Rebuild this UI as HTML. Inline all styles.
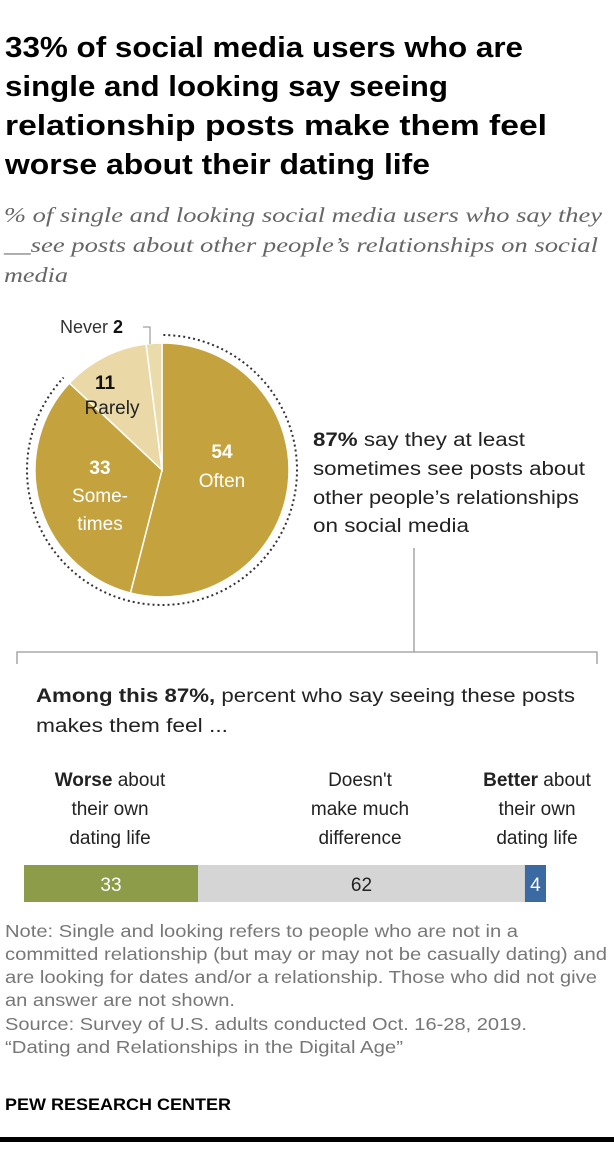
<!DOCTYPE html>
<html><head><meta charset="utf-8"><style>
html,body{margin:0;padding:0;background:#fff;}
svg{display:block;}
text{font-family:"Liberation Sans",sans-serif;}
.t{font-weight:bold;font-size:29px;fill:#000;}
.s{font-family:"Liberation Serif",serif;font-style:italic;font-size:21px;fill:#666;}
.b{font-size:19px;fill:#222;}
.n{font-size:17.5px;fill:#777;}
</style></head><body>
<svg id="chart" width="614" height="1150" viewBox="0 0 614 1150">
<g>
<text class="t" x="5" y="57" textLength="518" lengthAdjust="spacingAndGlyphs">33% of social media users who are</text>
<text class="t" x="5" y="96" textLength="443" lengthAdjust="spacingAndGlyphs">single and looking say seeing</text>
<text class="t" x="5" y="135" textLength="542" lengthAdjust="spacingAndGlyphs">relationship posts make them feel</text>
<text class="t" x="5" y="174" textLength="425" lengthAdjust="spacingAndGlyphs">worse about their dating life</text>
</g>
<g>
<text class="s" x="4" y="222" textLength="598" lengthAdjust="spacingAndGlyphs">% of single and looking social media users who say they</text>
<text class="s" x="4" y="252" textLength="594" lengthAdjust="spacingAndGlyphs">__see posts about other people’s relationships on social</text>
<text class="s" x="4" y="282" textLength="64" lengthAdjust="spacingAndGlyphs">media</text>
</g>
<g id="pie"></g>
<g>
<text class="b" x="313" y="446" textLength="212" lengthAdjust="spacingAndGlyphs"><tspan font-weight="bold">87%</tspan> say they at least</text>
<text class="b" x="313" y="475" textLength="272" lengthAdjust="spacingAndGlyphs">sometimes see posts about</text>
<text class="b" x="313" y="504" textLength="266" lengthAdjust="spacingAndGlyphs">other people’s relationships</text>
<text class="b" x="313" y="532" textLength="156" lengthAdjust="spacingAndGlyphs">on social media</text>
</g>
<g stroke="#999" stroke-width="1.3" fill="none">
<path d="M414 548 V652 M17 664 V652 H597 V664"/>
</g>
<g>
<text class="b" x="36" y="702" textLength="539" lengthAdjust="spacingAndGlyphs"><tspan font-weight="bold">Among this 87%,</tspan> percent who say seeing these posts</text>
<text class="b" x="36" y="732" textLength="192" lengthAdjust="spacingAndGlyphs">makes them feel ...</text>
</g>
<g id="collabels"></g>
<g id="bar"></g>
<g>
<text class="n" x="5" y="937" textLength="513" lengthAdjust="spacingAndGlyphs">Note: Single and looking refers to people who are not in a</text>
<text class="n" x="5" y="960" textLength="602" lengthAdjust="spacingAndGlyphs">committed relationship (but may or may not be casually dating) and</text>
<text class="n" x="5" y="983" textLength="592" lengthAdjust="spacingAndGlyphs">are looking for dates and/or a relationship. Those who did not give</text>
<text class="n" x="5" y="1006" textLength="230" lengthAdjust="spacingAndGlyphs">an answer are not shown.</text>
<text class="n" x="5" y="1030" textLength="522" lengthAdjust="spacingAndGlyphs">Source: Survey of U.S. adults conducted Oct. 16-28, 2019.</text>
<text class="n" x="5" y="1053" textLength="398" lengthAdjust="spacingAndGlyphs">“Dating and Relationships in the Digital Age”</text>
</g>
<text x="5" y="1110" font-weight="bold" font-size="17" fill="#000" textLength="226" lengthAdjust="spacingAndGlyphs">PEW RESEARCH CENTER</text>
<rect x="0" y="1137" width="614" height="5" fill="#000"/>
</svg>
<script>
const pieCats = ["Often","Sometimes","Rarely","Never"];
const pieValues = [54,33,11,2];
const barCats = ["Worse","No difference","Better"];
const barValues = [33,62,4];

const NS="http://www.w3.org/2000/svg";
function mk(tag,attrs,parent){const e=document.createElementNS(NS,tag);for(const k in attrs)e.setAttribute(k,attrs[k]);parent.appendChild(e);return e;}

const pie=document.getElementById('pie');
const cx=162,cy=470,r=127;
const total=pieValues.reduce((a,b)=>a+b,0);
const ang=v=>v/total*2*Math.PI;
const pt=(a,rr)=>[cx+rr*Math.sin(a),cy-rr*Math.cos(a)];
const pieColors=["#c4a33f","#c4a33f","#ead9a6","#eadcaa"];
let acc=0;
pieValues.forEach((v,i)=>{
  const a0=ang(acc),a1=ang(acc+v);acc+=v;
  const p0=pt(a0,r),p1=pt(a1,r);
  const large=(a1-a0)>Math.PI?1:0;
  const s=mk('path',{d:`M${cx} ${cy} L${p0[0]} ${p0[1]} A${r} ${r} 0 ${large} 1 ${p1[0]} ${p1[1]} Z`,fill:pieColors[i],stroke:"#fff","stroke-width":1.5},pie);
  
  
});
{
  const a1=ang(pieValues[0]+pieValues[1]);const rr=135;
  const p0=pt(0.01,rr),p1=pt(a1,rr);
  const d=mk('path',{d:`M${p0[0]} ${p0[1]} A${rr} ${rr} 0 1 1 ${p1[0]} ${p1[1]}`,fill:"none",stroke:"#333","stroke-width":2,"stroke-dasharray":"2 3"},pie);
  
  
}
function lbl(x,y,txt,opts,name){const t=mk('text',Object.assign({x:x,y:y,"text-anchor":"middle","font-size":19},opts),pie);t.textContent=txt;
  
  return t;}
lbl(222,458,String(pieValues[0]),{fill:"#fff","font-weight":"bold"},'often-value');
lbl(222,487,"Often",{fill:"#fff"},'often-label');
lbl(100,474,String(pieValues[1]),{fill:"#fff","font-weight":"bold"},'sometimes-value');
lbl(100,502,"Some-",{fill:"#fff"},'sometimes-label');
lbl(100,530,"times",{fill:"#fff"},'sometimes-label-2');
lbl(105,389,String(pieValues[2]),{fill:"#111","font-weight":"bold"},'rarely-value');
lbl(112,414,"Rarely",{fill:"#222"},'rarely-label');
{
  const t=mk('text',{x:60,y:333,"font-size":18,fill:"#333"},pie);
  
  
  t.innerHTML='Never <tspan font-weight="bold" fill="#111">'+pieValues[3]+'</tspan>';
  const l=mk('path',{d:"M143 327 H150 V344",fill:"none",stroke:"#888","stroke-width":1},pie);
  
  
}

const cl=document.getElementById('collabels');
const colText=[[["<tspan font-weight='bold'>Worse</tspan> about"],["their own"],["dating life"]],[["Doesn't"],["make much"],["difference"]],[["<tspan font-weight='bold'>Better</tspan> about"],["their own"],["dating life"]]];
const colX=[110,360,537];
colText.forEach((lines,i)=>{lines.forEach((ln,j)=>{const t=mk('text',{x:colX[i],y:786+j*29,"text-anchor":"middle","font-size":19,fill:"#222"},cl);t.innerHTML=ln[0];
  
  });});

const bar=document.getElementById('bar');
const bx0=24,bx1=546,by=865,bh=37;
const btot=barValues.reduce((a,b)=>a+b,0);
const xs=v=>v/btot*(bx1-bx0);
const barColors=["#8c9c48","#d5d5d5","#3b6aa3"];
const barText=["#fff","#222","#fff"];
let bacc=0;
barValues.forEach((v,i)=>{
  const x=bx0+xs(bacc),w=xs(v);bacc+=v;
  const rc=mk('rect',{x:x,y:by,width:w,height:bh,fill:barColors[i]},bar);
  
  
  const t=mk('text',{x:x+w/2,y:by+26,"text-anchor":"middle","font-size":19,fill:barText[i]},bar);
  t.textContent=String(v);
  
  
});
</script>
</body></html>
